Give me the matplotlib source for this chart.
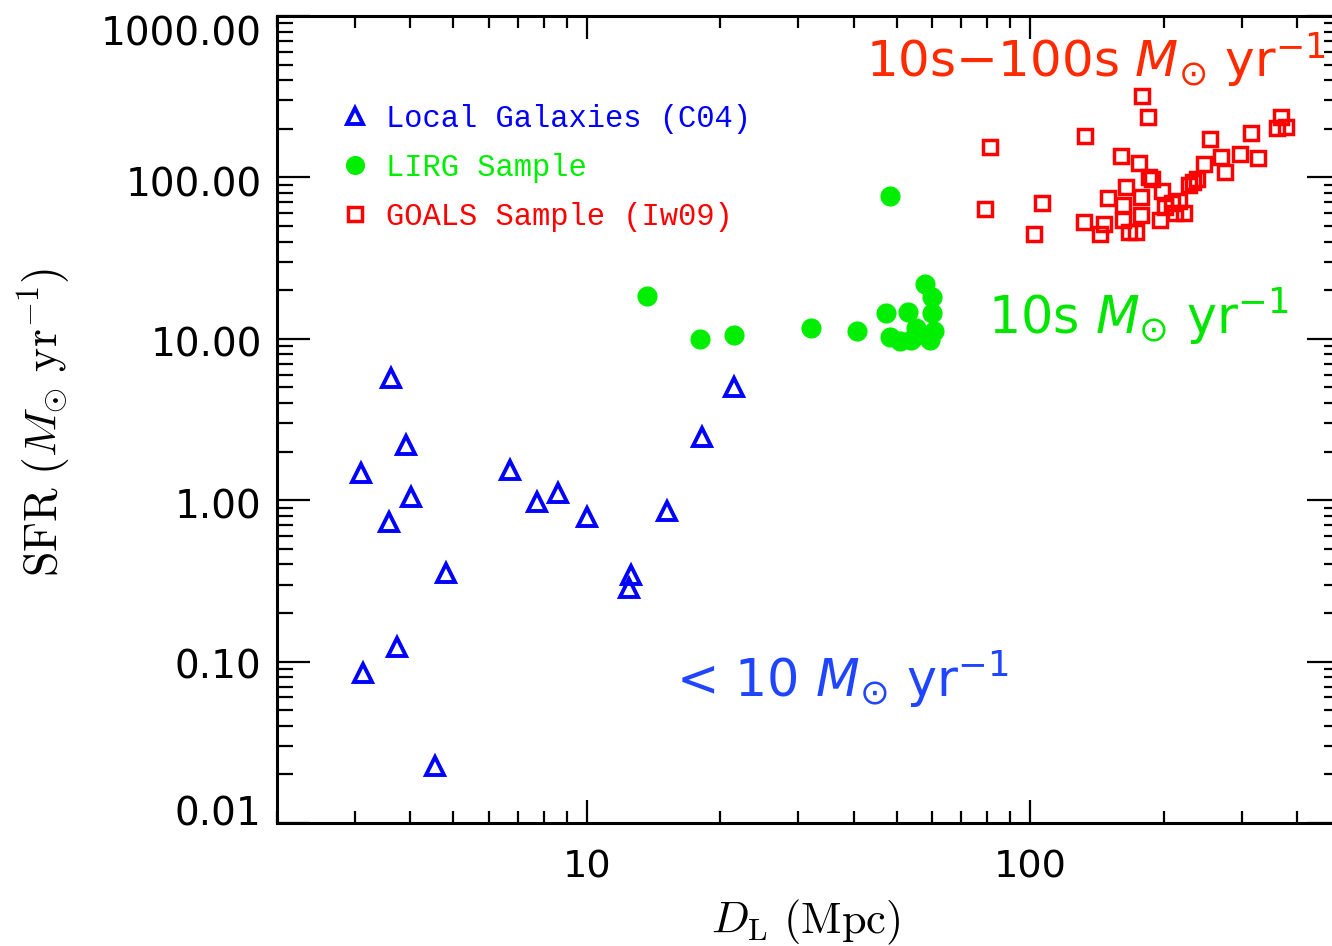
import matplotlib
matplotlib.use("Agg")
import matplotlib.pyplot as plt
import matplotlib.transforms as mtransforms
from matplotlib.ticker import FixedLocator, NullFormatter, FixedFormatter

# ---------------- data ----------------
local_dist = [3.62, 3.90, 3.10, 6.70, 4.02, 3.58, 7.71, 8.60, 10.0, 15.2,
              18.2, 21.5, 4.82, 12.6, 12.45, 3.73, 3.13, 4.55]
local_sfr = [5.72, 2.20, 1.47, 1.54, 1.04, 0.73, 0.972, 1.105, 0.784, 0.854,
             2.46, 5.03, 0.352, 0.342, 0.284, 0.124, 0.0855, 0.0226]

lirg_dist = [13.7, 18.0, 21.5, 32.1, 40.6, 48.2, 47.2, 52.9, 57.8, 60.0,
             60.0, 60.6, 59.5, 48.2, 50.8, 53.8, 55.2, 55.5]
lirg_sfr = [18.5, 10.0, 10.6, 11.7, 11.2, 76.2, 14.5, 14.7, 22.0, 18.2,
            14.5, 11.1, 9.86, 10.3, 9.7, 9.86, 11.7, 10.6]

goals_dist = [81.2, 79.1, 106.4, 102.0, 133.0, 179.2, 184.3, 254.1, 314.6, 367.9,
              360.3, 377.6, 160.7, 176.4, 269.1, 297.1, 326.3, 246.3, 274.8, 185.3,
              188.4, 237.5, 232.6, 227.8, 164.9, 197.9, 150.1, 178.3, 208.4, 216.2,
              162.3, 201.0, 222.0, 211.7, 195.9, 178.3, 162.3, 132.5, 147.1, 143.9,
              167.5, 173.7]
goals_sfr = [153.6, 63.3, 69.0, 44.3, 179.7, 318.0, 236.0, 172.2, 187.6, 236.0,
             201.5, 204.5, 135.0, 122.2, 133.1, 138.9, 131.2, 120.5, 107.4, 100.0,
             97.2, 97.2, 93.1, 89.2, 86.7, 81.8, 74.1, 75.1, 69.9, 71.0,
             67.0, 65.1, 60.6, 60.6, 54.8, 58.9, 54.8, 53.3, 51.8, 44.3,
             46.2, 46.2]

series_labels = ["Local Galaxies (C04)", "LIRG Sample", "GOALS Sample (Iw09)"]
series_colors = ["#0000ff", "#00ee00", "#ff0000"]

y_major = [0.01, 0.1, 1.0, 10.0, 100.0, 1000.0]
y_major_labels = ["0.01", "0.10", "1.00", "10.00", "100.00", "1000.00"]
x_major = [10, 100]
x_major_labels = ["10", "100"]
x_limits = (2, 500)
y_limits = (0.01, 1000)

# ---------------- figure ----------------
W, H = 1332, 946
fig = plt.figure(figsize=(W / 100, H / 100), dpi=100)
ax = fig.add_axes([277 / W, (H - 823) / H, (1340 - 277) / W, (823 - 16) / H])
ax.set_xscale("log")
ax.set_yscale("log")
ax.set_xlim(*x_limits)
ax.set_ylim(*y_limits)

h1, = ax.plot(local_dist, local_sfr, linestyle="none", marker="^", ms=12.5,
              mfc="none", mec=series_colors[0], mew=2.8, clip_on=False)
h2, = ax.plot(lirg_dist, lirg_sfr, linestyle="none", marker="o", ms=14.5,
              mfc=series_colors[1], mec=series_colors[1], mew=0, clip_on=False)
h3, = ax.plot(goals_dist, goals_sfr, linestyle="none", marker="s", ms=10.3,
              mfc="none", mec=series_colors[2], mew=2.5, clip_on=False)

for sp in ax.spines.values():
    sp.set_linewidth(2.2)

# ticks
ax.yaxis.set_major_locator(FixedLocator(y_major))
ax.yaxis.set_major_formatter(FixedFormatter(y_major_labels))
ax.yaxis.set_minor_locator(FixedLocator(
    [m * d for d in [0.01, 0.1, 1, 10, 100] for m in range(2, 10)]))
ax.yaxis.set_minor_formatter(NullFormatter())
ax.xaxis.set_major_locator(FixedLocator(x_major))
ax.xaxis.set_major_formatter(FixedFormatter(x_major_labels))
ax.xaxis.set_minor_locator(FixedLocator(
    [m * d for d in [1, 10, 100] for m in range(2, 10)]))
ax.xaxis.set_minor_formatter(NullFormatter())

ax.tick_params(axis="y", which="major", direction="in", length=23.5, width=1.6,
               left=True, right=True, labelsize=28, pad=11)
ax.tick_params(axis="y", which="minor", direction="in", length=11.5, width=1.6,
               left=True, right=True)
ax.tick_params(axis="x", which="major", direction="in", length=16.5, width=1.6,
               bottom=True, top=True, labelsize=27.5, pad=19)
ax.tick_params(axis="x", which="minor", direction="in", length=8.5, width=1.6,
               bottom=True, top=True)

# IDL-style: end labels pulled inward
shift_px = [-13, 2, 3, 3, 4, 15]   # positive = downward
yticks = ax.yaxis.get_major_ticks(len(y_major))
for t, s in zip(yticks, shift_px):
    off = mtransforms.ScaledTranslation(0, -s / 100, fig.dpi_scale_trans)
    t.label1.set_transform(t.label1.get_transform() + off)
    t.label1.set_fontfamily("DejaVu Sans")
for lab in ax.get_xticklabels():
    lab.set_fontfamily("DejaVu Sans")

# axis labels
fig.text(806 / W, 1 - 922 / H, r"$D_{\mathrm{L}}\ (\mathrm{Mpc})$", fontsize=32,
         ha="center", va="center", math_fontfamily="cm")
fig.text(44 / W, 1 - 422 / H, r"$\mathrm{SFR}\ (M_{\odot}\ \mathrm{yr}^{-1})$",
         fontsize=33, ha="center", va="center", rotation=90, math_fontfamily="cm")

# legend
leg = ax.legend([h1, h2, h3], series_labels, loc="upper left",
                bbox_to_anchor=((340 - 277) / 1063, 1 - (104 - 16) / 807),
                frameon=False, prop={"family": "Liberation Mono", "size": 22},
                handlelength=1.0, handletextpad=0.5, borderpad=0, borderaxespad=0,
                labelspacing=0.62, markerscale=0.95, labelcolor=series_colors)

# annotations
fig.text(866 / W, 1 - 77 / H, r"10s$-$100s $M_{\odot}$ yr$^{-1}$", fontsize=36,
         color="#ff2a00", ha="left", va="baseline", family="DejaVu Sans",
         math_fontfamily="dejavusans")
fig.text(988 / W, 1 - 334 / H, r"10s $M_{\odot}$ yr$^{-1}$", fontsize=36.5,
         color="#00e600", ha="left", va="baseline", family="DejaVu Sans",
         math_fontfamily="dejavusans")
fig.text(676 / W, 1 - 697 / H, r"< 10 $M_{\odot}$ yr$^{-1}$", fontsize=36.5,
         color="#1f45ff", ha="left", va="baseline", family="DejaVu Sans",
         math_fontfamily="dejavusans")

fig.savefig("out.png", dpi=100)
